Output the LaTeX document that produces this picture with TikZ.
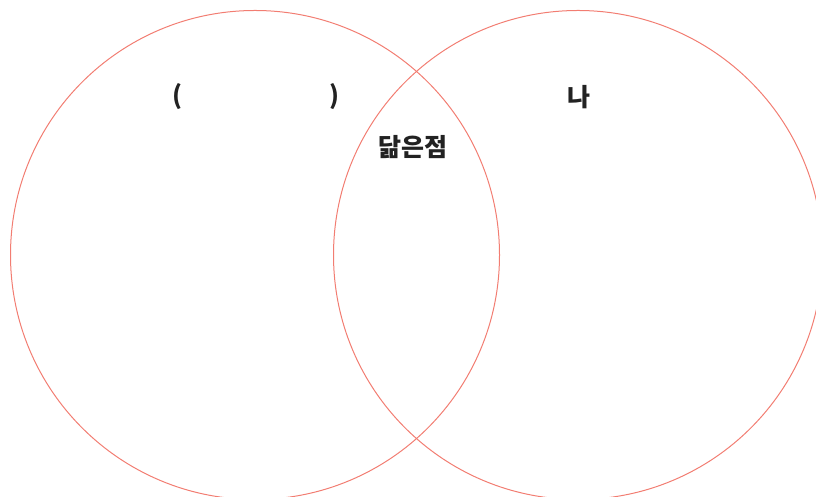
\documentclass[tikz,border=0pt]{standalone}
\usepackage{fontspec}
\setmainfont{Noto Sans CJK KR}
\usepackage{xcolor}
\usepackage{tikz}
\usetikzlibrary{positioning}
\definecolor{ringred}{HTML}{F27D72}
\definecolor{textdark}{HTML}{222222}

\begin{document}
\begin{tikzpicture}[
  x=1pt, y=1pt,
  ring/.style={draw=ringred, line width=1pt, circle, minimum size=489pt,
               inner sep=0pt},
  label/.style={text=textdark, font=\fontsize{25}{27}\selectfont\bfseries,
                inner sep=0pt}
]
\clip (0,0) rectangle (816,497);
\useasboundingbox (0,0) rectangle (816,497);
\node[ring] (left) at (255,242) {};
\node[ring] (right) at (578,242) {};
\node[label] (blank) at (256,400) {(\hspace{147pt})};
\node[label] (na) at (579,400) {나};
\node[label] (common) at (413,350) {닮은점};
\end{tikzpicture}
\end{document}
